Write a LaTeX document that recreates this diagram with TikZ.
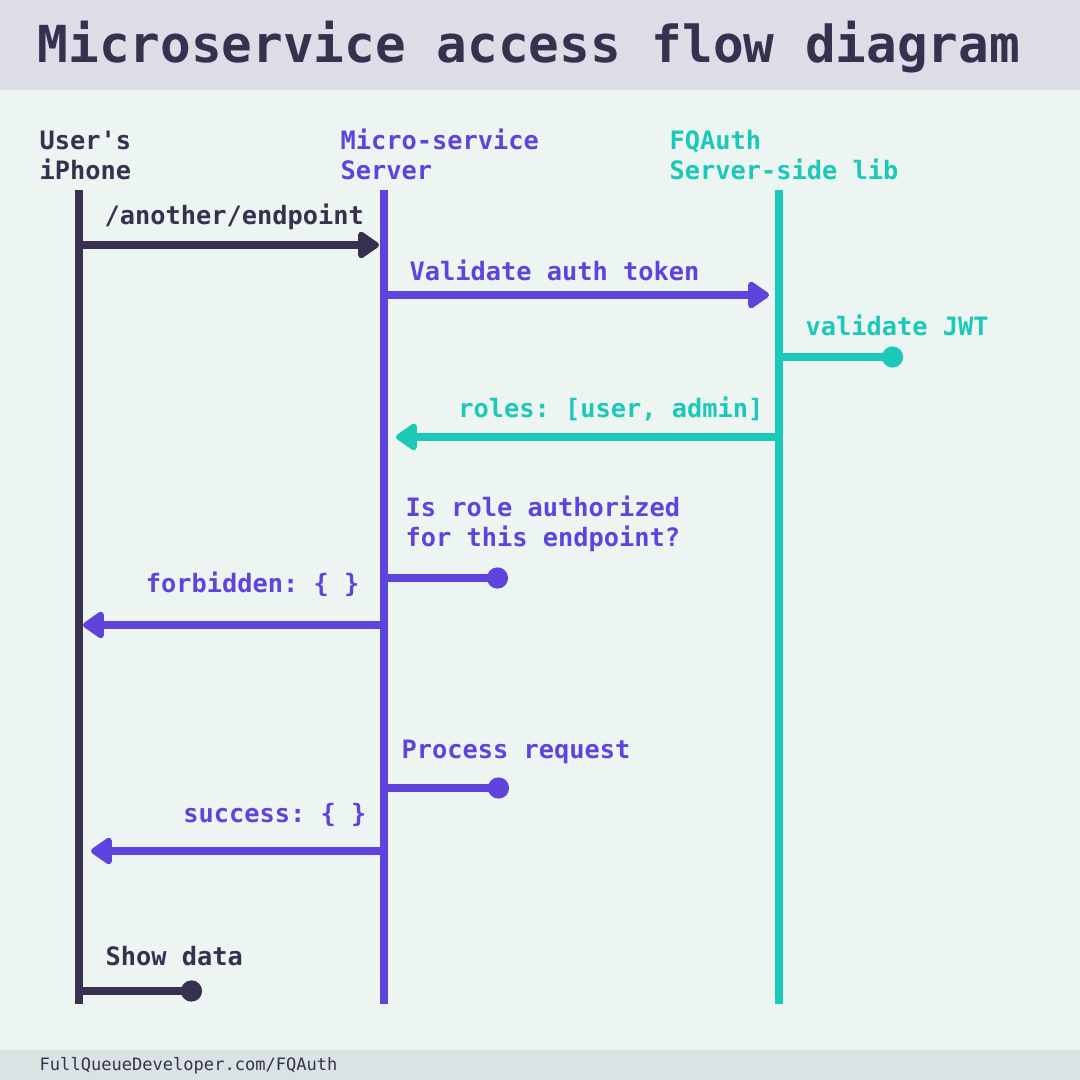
\documentclass[tikz,border=0pt]{standalone}
\usepackage{fontspec}
\setmonofont{DejaVu Sans Mono}
\usetikzlibrary{arrows.meta}

\definecolor{inkcol}{HTML}{37304F}
\definecolor{srvcol}{HTML}{5F43DD}
\definecolor{authcol}{HTML}{1BC9B9}
\definecolor{bgcol}{HTML}{EDF5F2}
\definecolor{titlecol}{HTML}{DCDDE6}
\definecolor{footcol}{HTML}{D9E3E3}

\tikzset{
	lifeline/.style={line width=2.4pt},
	msg/.style={line width=2.4pt, -{Triangle[round,length=6.6pt,width=8.6pt]}},
	selfmsg/.style={line width=2.4pt, -{Circle[length=6pt,width=6pt]}},
	lbl/.style={font=\ttfamily\bfseries\fontsize{7.2pt}{8.8pt}\selectfont, inner sep=0pt, align=left, anchor=base west},
	lblr/.style={lbl, anchor=base east},
}

\begin{document}
\begin{tikzpicture}[x=0.01cm, y=-0.01cm]
	\useasboundingbox (0,0) rectangle (1080,1080);
	\fill[bgcol] (0,0) rectangle (1080,1080);
	\fill[titlecol] (0,0) rectangle (1080,90);
	\fill[footcol] (0,1050) rectangle (1080,1080);
	
	\node[lbl, text=inkcol, font=\ttfamily\bfseries\fontsize{14.5pt}{16pt}\selectfont] (title) at (37,63) {Microservice access flow diagram};
	\node[lbl, text=inkcol, font=\ttfamily\fontsize{4.85pt}{6pt}\selectfont] (footer) at (39,1070) {FullQueueDeveloper.com/FQAuth};
	
	% headers
	\node[lbl, text=inkcol] (phone) at (39,180) {User's\\iPhone};
	\node[lbl, text=srvcol] (server) at (340,180) {Micro-service\\Server};
	\node[lbl, text=authcol] (auth) at (669,180) {FQAuth\\Server-side lib};
	
	% lifelines
	\coordinate (ut) at (79,190);
	\coordinate (ub) at (79,1004);
	\coordinate (st) at (384,190);
	\coordinate (sb) at (384,1004);
	\coordinate (at) at (779,190);
	\coordinate (ab) at (779,1004);
	\draw[lifeline, inkcol] (ut) -- (ub);
	\draw[lifeline, srvcol] (st) -- (sb);
	\draw[lifeline, authcol] (at) -- (ab);
	
	% message end points
	\coordinate (u1) at (79,245);   \coordinate (s1) at (379,245);
	\coordinate (s2) at (384,295);  \coordinate (a2) at (769,295);
	\coordinate (a3) at (779,357);  \coordinate (d3) at (903,357);
	\coordinate (a4) at (779,437);  \coordinate (s4) at (396,437);
	\coordinate (s5) at (384,578);  \coordinate (d5) at (508,578);
	\coordinate (s6) at (384,625);  \coordinate (u6) at (83,625);
	\coordinate (s7) at (384,788);  \coordinate (d7) at (509,788);
	\coordinate (s8) at (384,851);  \coordinate (u8) at (91,851);
	\coordinate (u9) at (79,991);   \coordinate (d9) at (202,991);
	
	\draw[msg, inkcol] (u1) -- (s1);
	\draw[msg, srvcol] (s2) -- (a2);
	\draw[selfmsg, authcol] (a3) -- (d3);
	\draw[msg, authcol] (a4) -- (s4);
	\draw[selfmsg, srvcol] (s5) -- (d5);
	\draw[msg, srvcol] (s6) -- (u6);
	\draw[selfmsg, srvcol] (s7) -- (d7);
	\draw[msg, srvcol] (s8) -- (u8);
	\draw[selfmsg, inkcol] (u9) -- (d9);
	
	% labels
	\node[lbl, text=inkcol] (m1) at (104,225) {/another/endpoint};
	\node[lbl, text=srvcol] (m2) at (409,281) {Validate auth token};
	\node[lbl, text=authcol] (m3) at (805,336) {validate JWT};
	\node[lblr, text=authcol] (m4) at (764,418) {roles: [user, admin]};
	\node[lbl, text=srvcol] (m5) at (405,547) {Is role authorized\\for this endpoint?};
	\node[lblr, text=srvcol] (m6) at (360,592) {forbidden: \{ \}};
	\node[lbl, text=srvcol] (m7) at (401,758) {Process request};
	\node[lblr, text=srvcol] (m8) at (367,822) {success: \{ \}};
	\node[lbl, text=inkcol] (m9) at (105,965) {Show data};
\end{tikzpicture}
\end{document}
